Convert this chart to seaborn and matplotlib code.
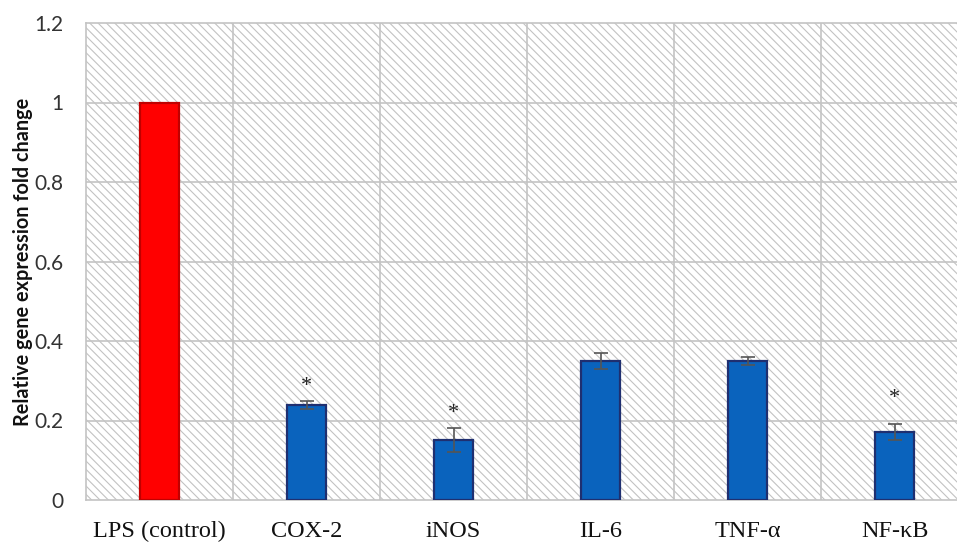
import matplotlib
matplotlib.use("Agg")
import matplotlib.pyplot as plt
from matplotlib.patches import Rectangle
import seaborn as sns
import pandas as pd

genes = ["LPS (control)", "COX-2", "iNOS", "IL-6", "TNF-\u03b1", "NF-\u03baB"]
fold_change = [1.0, 0.24, 0.15, 0.35, 0.35, 0.17]
errors = [0.0, 0.01, 0.03, 0.02, 0.01, 0.02]
significant = [False, True, True, False, False, True]
star_y = [None, 0.285, 0.218, None, None, 0.255]
bar_colors = ["#FF0000", "#0A63BD", "#0A63BD", "#0A63BD", "#0A63BD", "#0A63BD"]
edge_colors = ["#C00000", "#1F2F70", "#1F2F70", "#1F2F70", "#1F2F70", "#1F2F70"]

df = pd.DataFrame({"gene": genes, "fold": fold_change})

sns.set_style("white")
plt.rcParams["hatch.linewidth"] = 0.8
fig = plt.figure(figsize=(9.57, 5.44), dpi=100)
W, H = 957, 544
left, right, top, bottom = 86, 968, 23, 500
ax = fig.add_axes([left / W, 1 - bottom / H, (right - left) / W, (bottom - top) / H])

# hatched plot-area background
bg = Rectangle((0, 0), 1, 1, transform=ax.transAxes, facecolor="white",
               edgecolor="#C2C2C2", hatch="\\\\\\\\", linewidth=0, zorder=0)
ax.add_patch(bg)

sns.barplot(data=df, x="gene", y="fold", hue="gene", palette=bar_colors,
            legend=False, width=0.27, ax=ax, zorder=3, saturation=1)
for patch, ec in zip(ax.patches[1:], edge_colors):
    patch.set_edgecolor(ec)
    patch.set_linewidth(1.6)
    patch.set_zorder(3)

xs = list(range(len(genes)))
ax.errorbar(xs[1:], fold_change[1:], yerr=errors[1:], fmt="none",
            ecolor="#555555", elinewidth=1.2, capsize=5, capthick=1.2, zorder=4)

for x, sig, sy in zip(xs, significant, star_y):
    if sig:
        ax.text(x, sy, "*", ha="center", va="center", fontsize=16,
                family="Liberation Serif", color="#222222", zorder=5)

ax.set_xlim(-0.5, len(genes) - 0.5)
ax.set_ylim(0, 1.2)
ax.set_yticks([0, 0.2, 0.4, 0.6, 0.8, 1.0, 1.2])
ax.set_yticklabels(["0", "0.2", "0.4", "0.6", "0.8", "1", "1.2"],
                   family="Lato", fontsize=15, color="#333333")
ax.set_xticks(xs)
ax.set_xticklabels(genes, family="Liberation Serif", fontsize=17.5, color="#111111")
ax.tick_params(axis="x", length=0, pad=15)
ax.tick_params(axis="y", length=0, pad=16)

# grid: horizontal at ticks, vertical at category boundaries
for yv in [0.2, 0.4, 0.6, 0.8, 1.0]:
    ax.axhline(yv, color="#C4C4C4", lw=1.2, zorder=1)
for xv in [0.5, 1.5, 2.5, 3.5, 4.5]:
    ax.axvline(xv, color="#C4C4C4", lw=1.2, zorder=1)
for s in ax.spines.values():
    s.set_color("#C4C4C4")
    s.set_linewidth(1.2)

ax.set_xlabel("")
ax.set_ylabel("Relative gene expression fold change", family="Lato",
              fontweight="bold", fontsize=14.3, color="#111111", labelpad=0)
ax.yaxis.set_label_coords((33 - left) / (right - left), 0.5)

fig.savefig("out.png", dpi=100)
